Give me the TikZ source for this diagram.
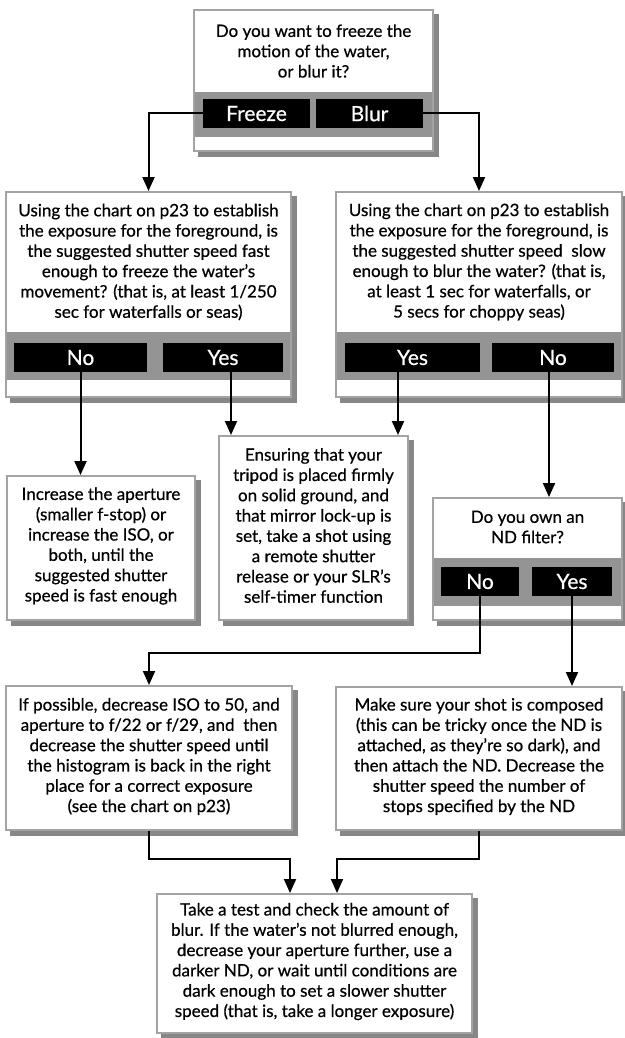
\documentclass[tikz,border=0pt]{standalone}
\usepackage{fontspec}
\setmainfont{Lato}[FakeBold=0.6]
\usetikzlibrary{arrows.meta,calc}
\definecolor{edgegray}{gray}{0.64}
\definecolor{bandgray}{gray}{0.58}
\definecolor{shadowgray}{gray}{0.53}
\begin{document}
\begin{tikzpicture}[x=1pt,y=-1pt,
  card/.style={draw=edgegray, line width=2pt, fill=white, inner sep=0pt,
    preaction={fill=shadowgray, draw=shadowgray, transform canvas={xshift=5pt, yshift=-5pt}}},
  txt/.style={align=center, inner sep=0pt, font=\fontsize{17}{20.3}\selectfont},
  btn/.style={fill=black, text=white, inner sep=0pt, minimum height=29pt,
    font=\fontsize{21}{22}\selectfont},
  band/.style={fill=bandgray},
  arr/.style={line width=2pt, -{Triangle[length=14pt,width=12pt]}}]
\useasboundingbox (0,0) rectangle (624,1038);

% ---- question: freeze or blur
\node[card, minimum width=239pt, minimum height=141pt] (q0) at (313.5,80.5) {};
\fill[band] (195,92) rectangle (432,137);
\node[txt] (t0) at (313.5,51) {Do you want to freeze the\\motion of the water,\\or blur it?};
\node[btn, minimum width=107pt] (freeze) at (256.5,113.5) {Freeze};
\node[btn, minimum width=107pt] (blur) at (369.5,113.5) {Blur};

% ---- question: fast enough to freeze
\node[card, minimum width=285pt, minimum height=205pt] (qL) at (148.5,294.5) {};
\fill[band] (7,332) rectangle (290,380);
\node[txt] (tL) at (148.5,262) {Using the chart on p23 to establish\\the exposure for the foreground, is\\the suggested shutter speed fast\\enough to freeze the water’s\\movement? (that is, at least 1/250\\sec for waterfalls or seas)};
\node[btn, minimum width=133pt] (lno) at (80.5,357.5) {No};
\node[btn, minimum width=120pt] (lyes) at (223,357.5) {Yes};

% ---- question: slow enough to blur
\node[card, minimum width=286pt, minimum height=205pt] (qR) at (479,294.5) {};
\fill[band] (337,332) rectangle (621,380);
\node[txt] (tR) at (479,262) {Using the chart on p23 to establish\\the exposure for the foreground, is\\the suggested shutter speed\ \ slow\\enough to blur the water? (that is,\\at least 1 sec for waterfalls, or\\5 secs for choppy seas)};
\node[btn, minimum width=135pt] (ryes) at (412.5,357.5) {Yes};
\node[btn, minimum width=122pt] (rno) at (553,357.5) {No};

% ---- action boxes, second row
\node[card, minimum width=188pt, minimum height=144pt] (inc) at (101,548) {};
\node[txt] (tInc) at (101,546) {Increase the aperture\\(smaller f-stop) or\\increase the ISO, or\\both, until the\\suggested shutter\\speed is fast enough};

\node[card, minimum width=189pt, minimum height=184pt] (ens) at (313.5,528) {};
\node[txt] (tEns) at (313.5,525.5) {Ensuring that your\\tripod is placed firmly\\on solid ground, and\\that mirror lock-up is\\set, take a shot using\\a remote shutter\\release or your SLR’s\\self-timer function};

% ---- question: ND filter
\node[card, minimum width=189pt, minimum height=122pt] (nd) at (527.5,559) {};
\fill[band] (434,558) rectangle (621,606);
\node[txt] (tNd) at (527.5,527) {Do you own an\\ND filter?};
\node[btn, minimum width=78pt] (ndno) at (480,581.5) {No};
\node[btn, minimum width=80pt] (ndyes) at (572,581.5) {Yes};

% ---- action boxes, third row
\node[card, minimum width=286pt, minimum height=144pt] (ifp) at (149,758) {};
\node[txt] (tIfp) at (149,756.5) {If possible, decrease ISO to 50, and\\aperture to f/22 or f/29, and\ \ then\\decrease the shutter speed until\\the histogram is back in the right\\place for a correct exposure\\(see the chart on p23)};

\node[card, minimum width=286pt, minimum height=143pt] (mk) at (479,758.5) {};
\node[txt] (tMk) at (479,756.5) {Make sure your shot is composed\\(this can be tricky once the ND is\\attached, as they’re so dark), and\\then attach the ND. Decrease the\\shutter speed the number of\\stops specified by the ND};

% ---- final step
\node[card, minimum width=315pt, minimum height=139pt] (tst) at (314.5,963.5) {};
\node[txt] (tTst) at (314.5,961.5) {Take a test and check the amount of\\blur. If the water’s not blurred enough,\\decrease your aperture further, use a\\darker ND, or wait until conditions are\\dark enough to set a slower shutter\\speed (that is, take a longer exposure)};

% ---- connectors
\draw[arr] (freeze.west) -| (qL.north);
\draw[arr] (blur.east) -| (qR.north);
\draw[arr] (lno.south) -- (lno.south |- inc.north);
\draw[arr] ([xshift=8pt]lyes.south) -- ([xshift=8pt]lyes.south |- ens.north);
\draw[arr] ([xshift=-14.5pt]ryes.south) -- ([xshift=-14.5pt]ryes.south |- ens.north);
\draw[arr] ([xshift=-4pt]rno.south) -- ([xshift=-4pt]rno.south |- nd.north);
\coordinate (k1) at (300,653);
\draw[arr] (ndno.south) |- (k1) -| (ifp.north);
\draw[arr] (ndyes.south) -- (ndyes.south |- mk.north);
\coordinate (j1) at (290,859);
\coordinate (j2) at (337,859);
\draw[arr] (ifp.south) |- (j1) -- (j1 |- tst.north);
\draw[arr] (mk.south) |- (j2) -- (j2 |- tst.north);
\end{tikzpicture}
\end{document}
